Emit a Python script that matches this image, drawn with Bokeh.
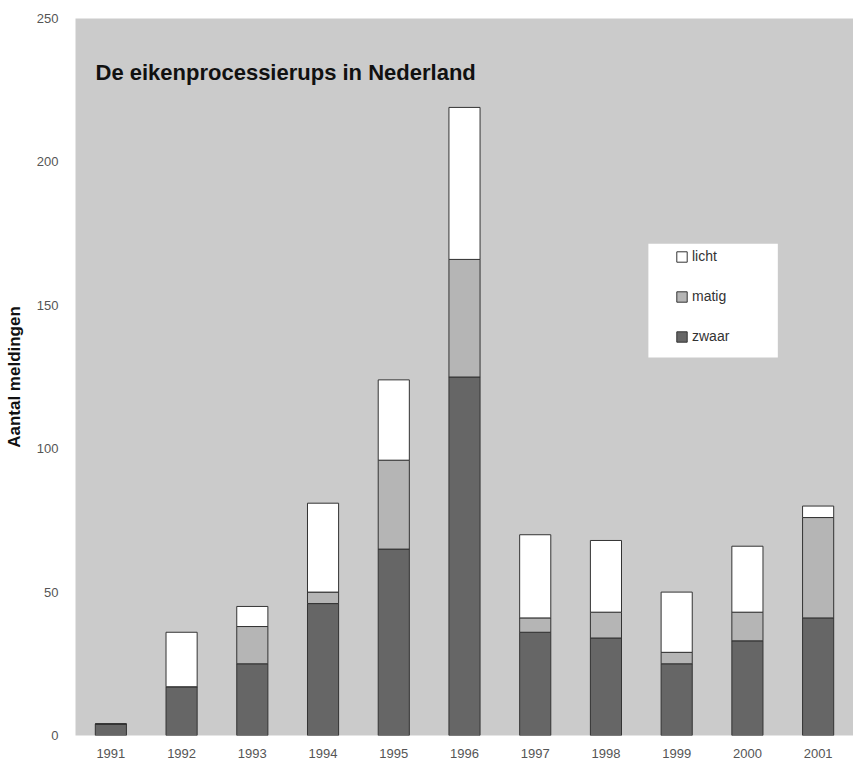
from bokeh.plotting import figure
from bokeh.models import Legend, LegendItem, Label, FactorRange, Range1d, FixedTicker, BoxAnnotation
from bokeh.embed import file_html
from bokeh.resources import INLINE

years = ["1991", "1992", "1993", "1994", "1995", "1996", "1997", "1998", "1999", "2000", "2001"]
zwaar = [4, 17, 25, 46, 65, 125, 36, 34, 25, 33, 41]
matig = [0, 0, 13, 4, 31, 41, 5, 9, 4, 10, 35]
licht = [0, 19, 7, 31, 28, 53, 29, 25, 21, 23, 4]
series = ["zwaar", "matig", "licht"]
colors = ["#666666", "#b5b5b5", "#ffffff"]

data = {"years": years, "zwaar": zwaar, "matig": matig, "licht": licht}

FONT = "Liberation Sans"

p = figure(width=853, height=764, x_range=FactorRange(*years), y_range=Range1d(0, 250),
           output_backend="svg", toolbar_location=None, tools="",
           min_border_left=75, min_border_right=0, min_border_top=18, min_border_bottom=29)
p.background_fill_color = "#cbcbcb"
p.border_fill_color = "#ffffff"
p.outline_line_color = None
p.grid.visible = False

# white legend panel (behind the legend)
p.add_layout(BoxAnnotation(left=8.10, right=9.93, bottom=131.8, top=171.5,
                           fill_color="#ffffff", fill_alpha=1, line_color=None, level="underlay"))

renderers = p.vbar_stack(series, x="years", width=0.44, source=data,
                         fill_color=colors, line_color="#333333", line_width=1)

p.yaxis.ticker = FixedTicker(ticks=[0, 50, 100, 150, 200, 250])
p.yaxis.axis_label = "Aantal meldingen"
p.yaxis.axis_label_text_font = FONT
p.yaxis.axis_label_text_font_style = "bold"
p.yaxis.axis_label_text_font_size = "17px"
p.yaxis.axis_label_text_color = "#111111"
p.yaxis.axis_label_standoff = 10
for ax in (p.xaxis, p.yaxis):
    ax.axis_line_color = None
    ax.major_tick_line_color = None
    ax.minor_tick_line_color = None
    ax.major_label_text_font = FONT
    ax.major_label_text_font_size = "13px"
    ax.major_label_text_color = "#555555"
p.xaxis.major_label_standoff = 7
p.yaxis.major_label_standoff = 11

p.add_layout(Label(x=20, y=663, x_units="screen", y_units="screen",
                   text="De eikenprocessierups in Nederland", text_font=FONT,
                   text_baseline="alphabetic",
                   text_font_style="bold", text_font_size="22px", text_color="#111111"))

items = [LegendItem(label="licht", renderers=[renderers[2]]),
         LegendItem(label="matig", renderers=[renderers[1]]),
         LegendItem(label="zwaar", renderers=[renderers[0]])]
legend = Legend(items=items, location=(600, 391), orientation="vertical",
                label_text_font=FONT, label_text_font_size="14px", label_text_color="#333333",
                glyph_width=13, glyph_height=13, label_height=13, spacing=24, padding=0,
                margin=0, background_fill_alpha=0,
                border_line_color=None, label_standoff=4)
p.add_layout(legend, "center")

open("out.html", "w").write(file_html(p, INLINE))
